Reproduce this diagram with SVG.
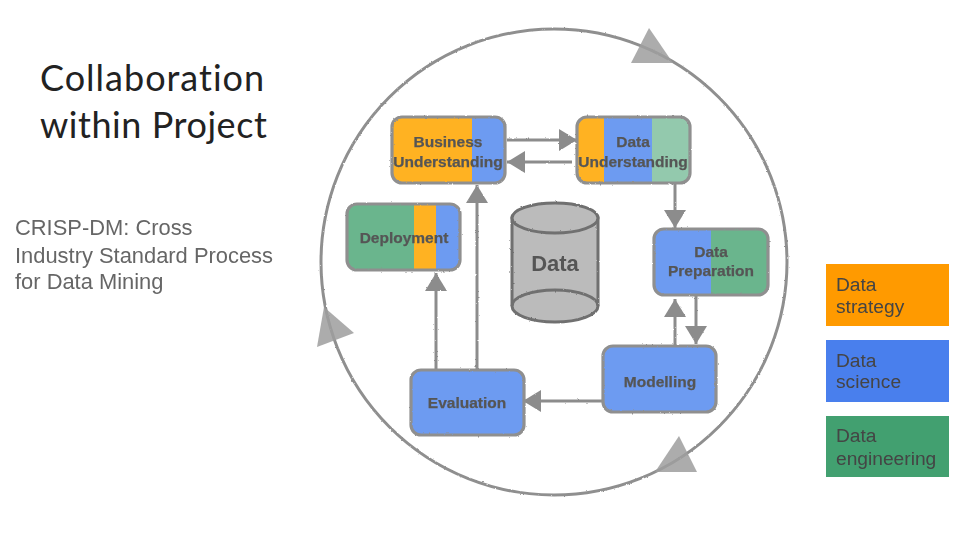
<svg xmlns="http://www.w3.org/2000/svg" width="975" height="535" viewBox="0 0 975 535">
<defs>
<filter id="sketch" x="-5%" y="-5%" width="110%" height="110%"><feTurbulence type="fractalNoise" baseFrequency="0.35" numOctaves="2" seed="4" result="n"/><feDisplacementMap in="SourceGraphic" in2="n" scale="2" xChannelSelector="R" yChannelSelector="G"/><feGaussianBlur stdDeviation="0.35"/></filter>
<filter id="soft" x="-5%" y="-5%" width="110%" height="110%"><feGaussianBlur stdDeviation="0.3"/></filter>
<clipPath id="c1"><rect x="392" y="117" width="113" height="66" rx="10"/></clipPath>
<clipPath id="c2"><rect x="347" y="204" width="113" height="66" rx="10"/></clipPath>
<clipPath id="c3"><rect x="577" y="117" width="113" height="66" rx="10"/></clipPath>
<clipPath id="c4"><rect x="654" y="229" width="114" height="66" rx="10"/></clipPath>
<marker id="head" markerUnits="userSpaceOnUse" markerWidth="20" markerHeight="24" refX="18" refY="11" orient="auto"><path d="M0 0L18 11L0 22Z" fill="#8c8c8c"/></marker>
</defs>
<style>
.box{fill:none;stroke:#8f8f8f;stroke-width:3.2}
.lbl{font:bold 15.5px "Liberation Sans",Arial,sans-serif;fill:#555;stroke:#555;stroke-width:.25;text-anchor:middle}
.or{fill:#ffb224}.bl{fill:#6d9bf1}.gr{fill:#6bb58d}.lg{fill:#93c9ad}
.cn{fill:none;stroke:#8c8c8c;stroke-width:3;marker-end:url(#head)}
.tri{fill:#9e9e9e;fill-opacity:.85}
.title{font:36px Lato,"Open Sans",sans-serif;fill:#222;letter-spacing:1px;font-variant-ligatures:none}
.sub{font:21.9px "Liberation Sans",Arial,sans-serif;fill:#666}
.leg{font:19.2px "Liberation Sans",Arial,sans-serif;fill:#444}
</style>
<rect width="975" height="535" fill="#fff"/>
<g id="title"><text class="title" x="40" y="91">Collaboration</text><text class="title" style="letter-spacing:.55px" x="40" y="138">within Project</text></g>
<g id="subtitle" filter="url(#soft)"><text class="sub" x="15" y="235">CRISP-DM: Cross</text><text class="sub" x="15" y="263">Industry Standard Process</text><text class="sub" x="15" y="289">for Data Mining</text></g>
<g id="cycle">
<circle cx="554" cy="262" r="233" fill="none" stroke="#8f8f8f" stroke-width="3" filter="url(#sketch)"/>
<g filter="url(#soft)"><polygon class="tri" points="649,28 673,63 631,63"/><polygon class="tri" points="324,307 354,333 317,347"/><polygon class="tri" points="679,436 697,472 655,472"/></g>
</g>
<g id="connectors" filter="url(#sketch)">
<path class="cn" d="M507 140H577"/>
<path class="cn" d="M572 162H507"/>
<path class="cn" d="M675 184V228"/>
<path class="cn" d="M675 346V299"/>
<path class="cn" d="M696 296V344"/>
<path class="cn" d="M603 401H523"/>
<path class="cn" d="M477 370V185"/>
<path class="cn" d="M436 370V273"/>
</g>
<g id="node-business">
<g clip-path="url(#c1)" filter="url(#soft)"><rect class="or" x="392" y="117" width="80" height="66"/><rect class="bl" x="472" y="117" width="33" height="66"/></g>
<rect class="box" x="392" y="117" width="113" height="66" rx="10" filter="url(#sketch)"/>
<text class="lbl" filter="url(#soft)"><tspan x="448" y="147">Business</tspan><tspan x="448" y="167">Understanding</tspan></text>
</g>
<g id="node-deployment">
<g clip-path="url(#c2)" filter="url(#soft)"><rect class="gr" x="347" y="204" width="67" height="66"/><rect class="or" x="414" y="204" width="22" height="66"/><rect class="bl" x="436" y="204" width="24" height="66"/></g>
<rect class="box" x="347" y="204" width="113" height="66" rx="10" filter="url(#sketch)"/>
<text class="lbl" x="404" y="243" filter="url(#soft)">Deployment</text>
</g>
<g id="node-data-understanding">
<g clip-path="url(#c3)" filter="url(#soft)"><rect class="or" x="577" y="117" width="27" height="66"/><rect class="bl" x="604" y="117" width="48" height="66"/><rect class="lg" x="652" y="117" width="38" height="66"/></g>
<rect class="box" x="577" y="117" width="113" height="66" rx="10" filter="url(#sketch)"/>
<text class="lbl" filter="url(#soft)"><tspan x="633" y="147">Data</tspan><tspan x="633" y="167">Understanding</tspan></text>
</g>
<g id="node-data-preparation">
<g clip-path="url(#c4)" filter="url(#soft)"><rect class="bl" x="654" y="229" width="57" height="66"/><rect class="gr" x="711" y="229" width="57" height="66"/></g>
<rect class="box" x="654" y="229" width="114" height="66" rx="10" filter="url(#sketch)"/>
<text class="lbl" filter="url(#soft)"><tspan x="711" y="257">Data</tspan><tspan x="711" y="276">Preparation</tspan></text>
</g>
<g id="node-modelling">
<rect class="box" style="fill:#6d9bf1" x="603" y="346" width="113" height="66" rx="10" filter="url(#sketch)"/>
<text class="lbl" x="660" y="387" filter="url(#soft)">Modelling</text>
</g>
<g id="node-evaluation">
<rect class="box" style="fill:#6d9bf1" x="411" y="370" width="113" height="65" rx="10" filter="url(#sketch)"/>
<text class="lbl" x="467" y="408" filter="url(#soft)">Evaluation</text>
</g>
<g id="node-data">
<g filter="url(#sketch)" stroke="#6f6f6f" stroke-width="3">
<path d="M512 218V306A43 16 0 0 0 598 306V218Z" fill="#bbb"/>
<ellipse cx="555" cy="218" rx="43" ry="15" fill="#bbb"/>
<path d="M512 306A43 16 0 0 1 598 306" fill="none"/>
</g>
<text x="555" y="271" text-anchor="middle" font-family="Liberation Sans, Arial, sans-serif" font-weight="bold" font-size="22" fill="#555" filter="url(#soft)">Data</text>
</g>
<g id="legend-strategy" filter="url(#soft)"><rect x="826" y="264" width="123" height="62" fill="#ff9a00"/><text class="leg"><tspan x="836" y="291">Data</tspan><tspan x="836" y="313">strategy</tspan></text></g>
<g id="legend-science" filter="url(#soft)"><rect x="826" y="340" width="123" height="62" fill="#4a7fed"/><text class="leg"><tspan x="836" y="367">Data</tspan><tspan x="836" y="388">science</tspan></text></g>
<g id="legend-engineering" filter="url(#soft)"><rect x="826" y="416" width="123" height="61" fill="#42a070"/><text class="leg"><tspan x="836" y="442">Data</tspan><tspan x="836" y="465">engineering</tspan></text></g>
</svg>
